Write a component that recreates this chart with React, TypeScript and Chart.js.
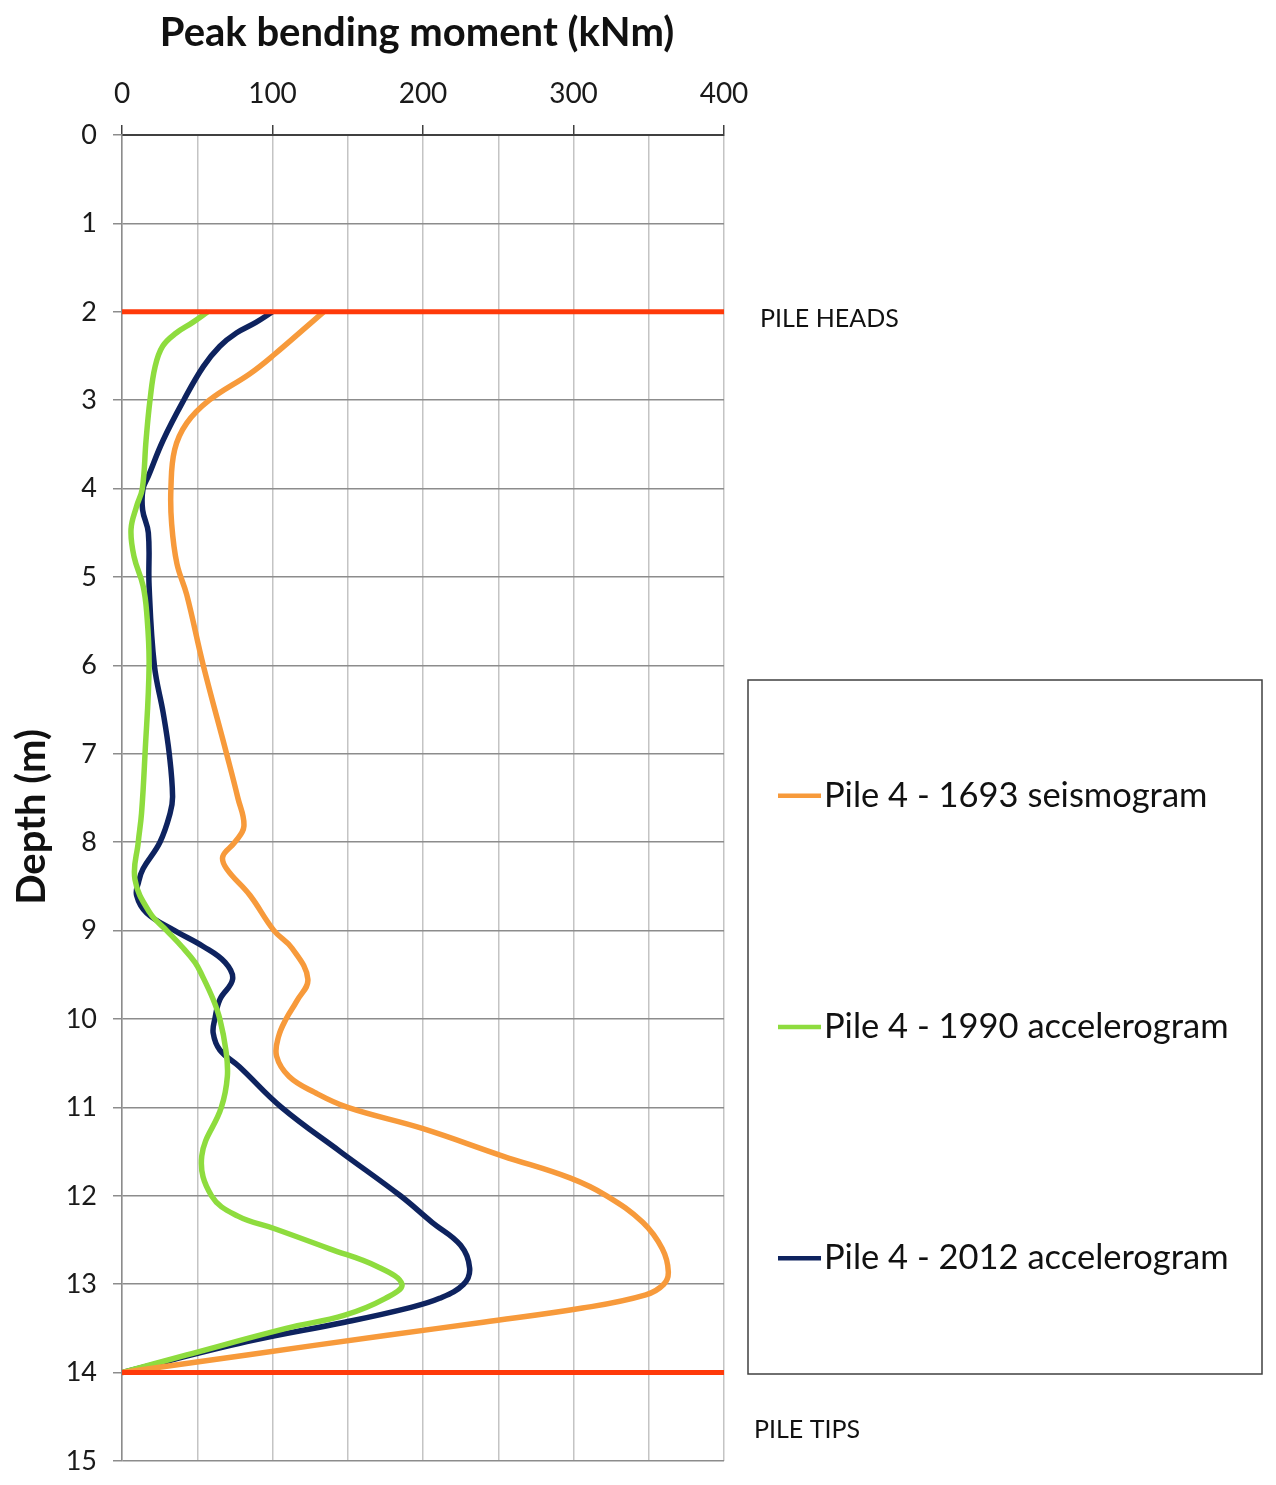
import { useEffect, useRef } from 'react';
import { Chart, registerables } from 'chart.js';

Chart.register(...registerables);

// depth (m) and peak bending moment (kNm) for each record
const depth1693 = [2, 2.5, 2.7, 3, 3.26, 3.56, 4, 4.4, 4.85, 5.2, 6, 7, 7.5, 7.82, 8, 8.16, 8.3, 8.6, 9, 9.2, 9.55, 9.8, 10, 10.2, 10.42, 10.65, 10.83, 11, 11.24, 11.55, 11.8, 12, 12.3, 12.6, 12.86, 13, 13.12, 13.27, 13.43, 13.58, 13.8, 14];
const moment1693 = [134, 100, 85, 58, 43, 35, 32.5, 33, 36.5, 43, 54, 69.5, 77, 81, 75, 67, 69.5, 85, 101, 113, 123.5, 116, 109, 104, 102.7, 111, 128, 150, 200, 253, 298, 322, 346, 359, 363, 360, 348, 306, 240, 175, 83, 0];

const depth1990 = [2, 2.12, 2.24, 2.39, 2.62, 3, 3.45, 4, 4.2, 4.46, 4.77, 5.1, 5.4, 6, 7, 7.67, 8, 8.42, 8.8, 9, 9.18, 9.36, 9.5, 9.78, 10, 10.35, 10.65, 11, 11.55, 12, 12.23, 12.37, 12.6, 12.8, 13, 13.16, 13.35, 13.5, 13.8, 14];
const moment1990 = [57, 47, 36, 27, 22, 18.6, 16, 13.5, 9.7, 6, 8, 14, 16.4, 18, 15.3, 13, 10.8, 8.6, 18.6, 29.7, 39.7, 48.5, 53, 60.6, 65, 69, 70, 66, 53, 59.5, 77, 101, 138, 169.5, 186, 175, 148, 109, 43, 0];

const depth2012 = [2, 2.12, 2.24, 2.39, 2.62, 3, 3.45, 3.86, 4, 4.24, 4.5, 5.1, 6, 6.54, 7, 7.48, 7.67, 8, 8.3, 8.45, 8.6, 8.8, 9, 9.18, 9.36, 9.55, 9.78, 10, 10.16, 10.35, 10.54, 11, 11.5, 12, 12.3, 12.56, 12.82, 13, 13.16, 13.27, 13.43, 13.65, 14];
const moment2012 = [100, 89, 76, 65, 54, 41, 27.4, 17.5, 14, 13.7, 17.5, 18, 21.5, 27.4, 31.4, 33.6, 32, 25.2, 14, 11, 9.7, 16.4, 35, 54, 68.5, 73.5, 65, 61.7, 60.6, 65, 78, 106, 145, 185, 206, 225, 231, 227, 211, 190, 148, 83, 0];

const seriesLabels = ['Pile 4 - 1693 seismogram', 'Pile 4 - 1990 accelerogram', 'Pile 4 - 2012 accelerogram'];
const seriesColors = ['#F79A3B', '#8EDC3E', '#0E235F'];

const pileHeadDepth = 2;
const pileTipDepth = 14;
const momentRange = [0, 400];

const FONT = 'Lato, "Open Sans", sans-serif';

const toPoints = (ys: number[], xs: number[]) => ys.map((y, i) => ({ x: xs[i], y }));

// axis titles, legend box and the PILE HEADS / PILE TIPS notes
const sideNotes = {
  id: 'sideNotes',
  afterDraw(chart: any) {
    const { ctx, scales } = chart;
    const y = scales.y;
    ctx.save();
    ctx.fillStyle = '#111';
    ctx.textBaseline = 'middle';
    ctx.textAlign = 'center';
    ctx.font = `bold 40px ${FONT}`;
    ctx.fillText('Peak bending moment (kNm)', 417, 33);
    ctx.save();
    ctx.translate(32, 817);
    ctx.rotate(-Math.PI / 2);
    ctx.fillText('Depth (m)', 0, 0);
    ctx.restore();

    ctx.textAlign = 'left';
    ctx.font = `25px ${FONT}`;
    ctx.fillText('PILE HEADS', 760, y.getPixelForValue(pileHeadDepth) + 7);
    ctx.fillText('PILE TIPS', 754, y.getPixelForValue(pileTipDepth) + 57);

    const box = { left: 748, top: 680, right: 1262, bottom: 1374 };
    ctx.strokeStyle = '#404040';
    ctx.lineWidth = 1.5;
    ctx.strokeRect(box.left, box.top, box.right - box.left, box.bottom - box.top);
    const h = box.bottom - box.top;
    ctx.font = `34.5px ${FONT}`;
    seriesLabels.forEach((label, i) => {
      const cy = box.top + h / 6 + (i * h) / 3;
      ctx.strokeStyle = seriesColors[i];
      ctx.lineWidth = 4.5;
      ctx.beginPath();
      ctx.moveTo(778, cy);
      ctx.lineTo(821, cy);
      ctx.stroke();
      ctx.fillStyle = '#111';
      ctx.fillText(label, 824, cy);
    });
    ctx.restore();
  },
};

export default function App() {
  const canvasRef = useRef<HTMLCanvasElement>(null);

  useEffect(() => {
    if (!canvasRef.current) return;
    const curve = (i: number, pts: { x: number; y: number }[]) => ({
      label: seriesLabels[i],
      data: pts,
      borderColor: seriesColors[i],
      borderWidth: 5.5,
      pointRadius: 0,
      tension: 0.4,
      fill: false,
    });
    const marker = (d: number) => ({
      label: '',
      data: [{ x: momentRange[0], y: d }, { x: momentRange[1], y: d }],
      borderColor: '#FF3A0A',
      borderWidth: 5,
      pointRadius: 0,
      tension: 0,
    });

    const chart = new Chart(canvasRef.current, {
      type: 'line',
      data: {
        datasets: [
          marker(pileHeadDepth),
          marker(pileTipDepth),
          curve(0, toPoints(depth1693, moment1693)),
          curve(1, toPoints(depth1990, moment1990)),
          curve(2, toPoints(depth2012, moment2012)),
        ],
      },
      options: {
        responsive: false,
        animation: false,
        layout: { padding: { left: 0, top: 0, right: 552, bottom: 24 } },
        plugins: { legend: { display: false }, tooltip: { enabled: false } },
        scales: {
          x: {
            type: 'linear',
            position: 'top',
            min: momentRange[0],
            max: momentRange[1],
            afterFit: (s: any) => {
              s.height = 135;
              s.paddingLeft = 0;
              s.paddingRight = 0;
            },
            ticks: {
              stepSize: 50,
              color: '#1a1a1a',
              font: { family: FONT, size: 28 },
              padding: 14,
              callback: (v: any) => (v % 100 === 0 ? String(v) : ''),
            },
            grid: {
              color: '#c4c4c4',
              lineWidth: 1.5,
              tickLength: 10,
              tickColor: (c: any) => (c.tick && c.tick.value % 100 === 0 ? '#404040' : 'rgba(0,0,0,0)'),
            },
            border: { color: '#404040', width: 2 },
          },
          y: {
            type: 'linear',
            reverse: true,
            min: 0,
            max: 15,
            afterFit: (s: any) => {
              s.width = 122;
              s.paddingTop = 0;
              s.paddingBottom = 0;
            },
            ticks: {
              stepSize: 1,
              color: '#1a1a1a',
              font: { family: FONT, size: 27 },
              padding: 16,
            },
            grid: { color: '#8c8c8c', lineWidth: 1.5, tickLength: 9, tickColor: '#8c8c8c' },
            border: { color: '#8c8c8c', width: 1.5 },
          },
        },
      },
      plugins: [sideNotes],
    });
    return () => chart.destroy();
  }, []);

  return (
    <div style={{ position: 'absolute', left: 0, top: 0, width: 1276, height: 1485, background: '#fff' }}>
      <canvas ref={canvasRef} width={1276} height={1485} />
    </div>
  );
}
